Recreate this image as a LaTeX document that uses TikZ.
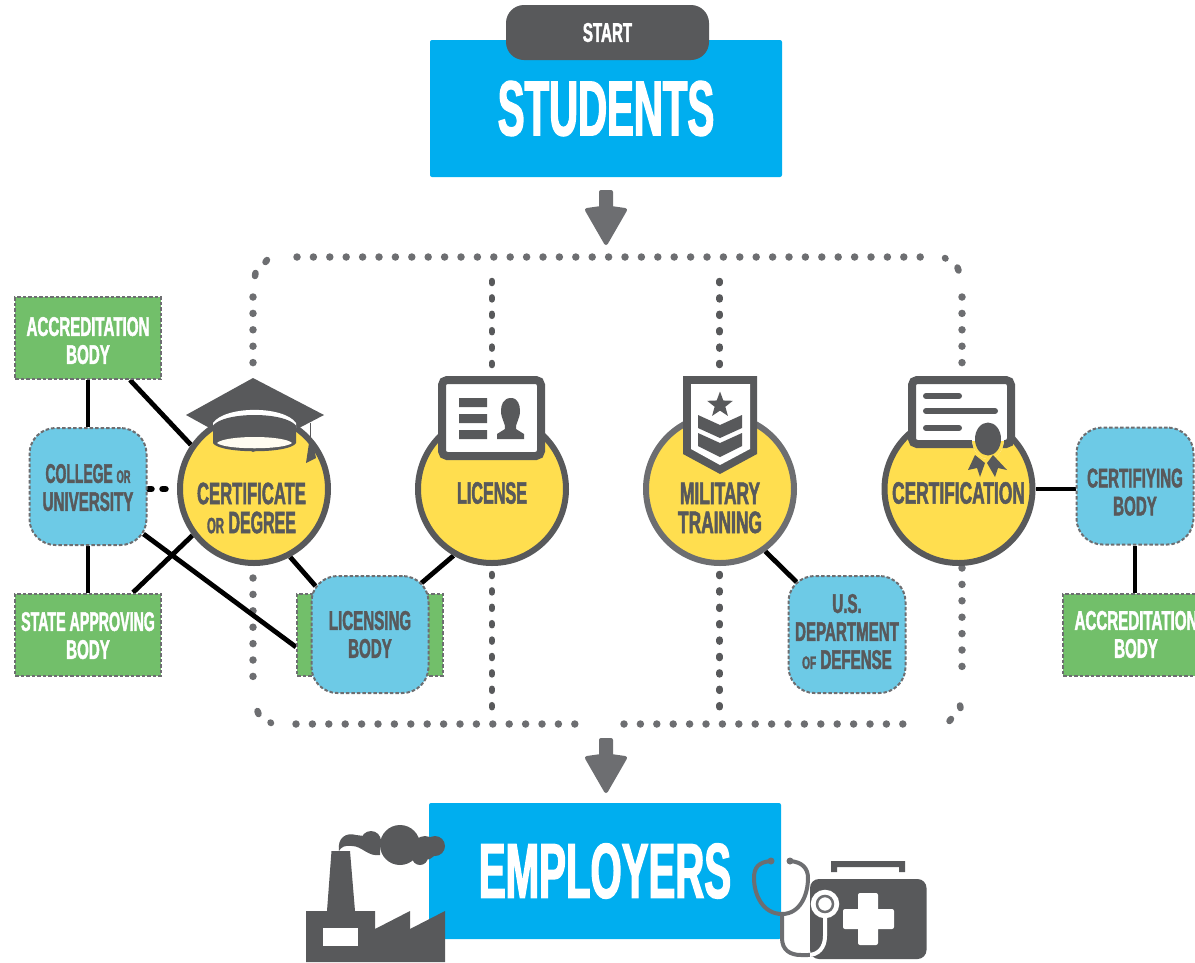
\documentclass[tikz,border=0pt]{standalone}
\usepackage{fontspec}
\setmainfont[FakeStretch=0.56,BoldFont={Liberation Sans Bold},BoldFeatures={FakeStretch=0.56,FakeBold=1.6}]{Liberation Sans}
\newfontfamily\bigface[FakeStretch=0.515,FakeBold=1.6]{Liberation Sans Bold}
\usetikzlibrary{shapes.geometric,calc,backgrounds}
\definecolor{ink}{HTML}{58595B}
\definecolor{midgray}{HTML}{6D6E71}
\definecolor{skyb}{HTML}{00AEEF}
\definecolor{softb}{HTML}{6DCAE6}
\definecolor{leaf}{HTML}{72BF6A}
\definecolor{sun}{HTML}{FFDE4F}
\newcommand{\fs}[1]{\fontsize{#1}{#1}\selectfont}
\newcommand{\sm}[1]{{\fs{18}#1}}
\newcommand{\dropby}[1]{\rule{0pt}{#1pt}}
\newcommand{\liftby}[1]{\rule[-#1pt]{0pt}{#1pt}}
\tikzset{
 x=1pt,y=-1pt,
 lbl/.style={font=\bfseries\fs{27},align=center,inner sep=0pt,execute at begin node={\baselineskip=28pt}},
 circlbl/.style={lbl,text=ink,font=\bfseries\fs{31},execute at begin node={\baselineskip=29pt}},
 greenbox/.style={lbl,text=white,fill=leaf,draw=midgray,line width=2pt,dash pattern=on 3.5pt off 2pt,minimum width=146pt,minimum height=82pt},
 bluebox/.style={lbl,text=ink,fill=softb,draw=midgray,line width=2pt,dash pattern=on 3.5pt off 2pt,rounded corners=26pt,minimum width=117pt,minimum height=117pt},
 pathway/.style={circle,fill=sun,draw=ink,line width=6pt,minimum size=148pt,inner sep=0pt},
 bigbox/.style={fill=skyb,text=white,font=\bigface\fs{78},inner sep=0pt,rounded corners=2pt},
 link/.style={line width=4.8pt,draw=black},
 dots/.style={draw=midgray,line width=7.5pt,line cap=round,dash pattern=on 0pt off 16.4pt},
 vdots/.style={draw=ink,line width=6.5pt,line cap=round,dash pattern=on 2pt off 14.4pt},
 cornerdot/.style={draw=midgray,line width=6.5pt,line cap=round},
 bigarrow/.style={fill=midgray,draw=midgray,line width=4pt,line join=round},
}
\begin{document}
\begin{tikzpicture}
\useasboundingbox (0,0) rectangle (1195,962);
% top and bottom boxes
\fill[bigarrow] (601,192) -- (611,192) -- (611,208) -- (625,210) -- (606,243) -- (587,210) -- (601,208) -- cycle;
\fill[bigarrow] (601,740) -- (611,740) -- (611,756) -- (625,758) -- (606,791) -- (587,758) -- (601,756) -- cycle;
\node[bigbox,minimum width=352pt,minimum height=137pt] (students) at (606,108.5) {STUDENTS};
\node[fill=ink,text=white,rounded corners=18pt,minimum width=203pt,minimum height=55pt,inner sep=0pt,font=\bfseries\fs{27}] (start) at (607.5,32.5) {START};
\node[bigbox,minimum width=352pt,minimum height=136pt] (employers) at (605,871) {EMPLOYERS};
% green boxes
\node[greenbox] (acc1) at (88,338) {\dropby{24}ACCREDITATION\\BODY};
\node[greenbox] (state) at (88,634.5) {\dropby{21}\scalebox{0.94}[1]{STATE APPROVING}\\BODY};
\node[greenbox] (lgreen) at (370,634.5) {};
\node[greenbox,anchor=west,text width=133pt] (acc2) at (1062,634.5) {ACCREDITATION\\BODY};
% circles
\node[pathway] (cert) at (254,489) {};
\node[pathway] (lic) at (492,489) {};
\node[pathway,draw=midgray] (mil) at (720,489) {};
\node[pathway] (certn) at (958.5,489) {};
% blue boxes
\node[bluebox] (college) at (88,486.5) {\dropby{21}\scalebox{0.92}[1]{COLLEGE \sm{OR}}\\UNIVERSITY};
\node[bluebox] (licbody) at (370,634.5) {LICENSING\\BODY};
\node[bluebox] (dod) at (847,634.5) {U.S.\\DEPARTMENT\\\sm{OF} DEFENSE\liftby{6}};
\node[bluebox] (cfb) at (1135,486) {\dropby{31}CERTIFIYING\\BODY};
% labels in circles
\node[circlbl] (certt) at (251.5,508) {\scalebox{0.96}[1]{CERTIFICATE}\\\scalebox{0.92}[1]{{\fs{22}OR} DEGREE}};
\node[circlbl] (lict) at (492,493) {\scalebox{0.93}[1]{LICENSE}};
\node[circlbl] (milt) at (720,508) {MILITARY\\TRAINING};
\node[circlbl] (certnt) at (958.5,493) {CERTIFICATION};
\begin{pgfonlayer}{background}
% dotted frame
\coordinate (fa) at (253,370); \coordinate (fb) at (253,297);
\coordinate (fc) at (297,257); \coordinate (fd) at (925,257);
\coordinate (fe) at (962,297); \coordinate (ff) at (962,369);
\coordinate (fg) at (962,568); \coordinate (fh) at (962,682);
\coordinate (fi) at (919,724); \coordinate (fj) at (624,724);
\coordinate (fk) at (591,724); \coordinate (fl) at (296,724);
\coordinate (fm) at (253,578); \coordinate (fn) at (253,678);
\draw[dots] (fb) -- (fa); \draw[dots] (fc) -- (fd); \draw[dots] (fe) -- (ff);
\draw[dots] (fg) -- (fh); \draw[dots] (fj) -- (fi); \draw[dots] (fl) -- (fk); \draw[dots] (fm) -- (fn);
\draw[cornerdot] (255,276) -- (255.5,273);
\draw[cornerdot] (265.5,262) -- (267,260);
\draw[cornerdot] (945,258) -- (945.5,258.5);
\draw[cornerdot] (957.5,267.5) -- (958.5,270.5);
\draw[cornerdot] (960.5,708) -- (960,705.5);
\draw[cornerdot] (951,719) -- (949.5,721);
\draw[cornerdot] (270.5,722.5) -- (271,723);
\draw[cornerdot] (257.5,711) -- (258.5,714);
\coordinate (d1a) at (491.8,281); \coordinate (d1b) at (491.8,372);
\coordinate (d1c) at (491.8,574); \coordinate (d1d) at (491.8,708);
\coordinate (d2a) at (719.6,281); \coordinate (d2b) at (719.6,372);
\coordinate (d2c) at (719.6,574); \coordinate (d2d) at (719.6,708);
\draw[vdots] (d1a)--(d1b); \draw[vdots] (d1c)--(d1d);
\draw[vdots] (d2a)--(d2b); \draw[vdots] (d2c)--(d2d);
% connectors
\draw[link] (acc1.south) -- (college.north);
\draw[link] (college.south) -- (state.north);
\draw[link] ([xshift=42pt]acc1.south) -- (cert.145);
\draw[link] ([xshift=45pt]state.north) -- (cert.217);
\draw[link] (college.south east) ++(-4,-12) -- (lgreen.west |- 0,647);
\draw[link] (cert.-62) -- ([shift={(5,11)}]licbody.north west);
\draw[link] ([shift={(-8,8)}]licbody.north east) -- (lic.-120);
\draw[link] (mil.-54) -- ([shift={(9,7)}]dod.north west);
\draw[link] (certn.east) -- (cfb.west |- certn.east);
\draw[link] (cfb.south) -- (acc2.north -| cfb.south);
\draw[draw=black,line width=6.5pt,line cap=round,dash pattern=on 3pt off 11pt] (college.east |- cert.west) ++(1,0) -- ([xshift=-8pt]cert.west);
\end{pgfonlayer}
% mortarboard
\fill[ink] (253,378) -- (324,415) -- (253,452) -- (186,415) -- cycle;
\fill[white] (213,423) .. controls (225,405.5) and (284,405.5) .. (296,423) -- (296,428) -- (213,428) -- cycle;
\fill[ink] (213,425.5) .. controls (225,411.5) and (284,411.5) .. (296,425.5) -- (296,443) .. controls (290,454) and (219,454) .. (213,443) -- cycle;
\fill[sun!8!white] (217,443) .. controls (225,435) and (284,435) .. (292,443) .. controls (284,450) and (225,450) .. (217,443) -- cycle;
\draw[ink,line width=1.5pt] (310.5,423) -- (310.5,445);
\fill[ink] (309,443) -- (313,443) -- (316,458) -- (306,463) -- cycle;
% licence card
\draw[ink,line width=8pt,fill=white,rounded corners=5pt] (442,380) rectangle (541,456);
\fill[ink] (459,398) rectangle (487,407) (459,414) rectangle (487,423) (459,430) rectangle (487,439);
\fill[ink] (511,398) .. controls (503,398) and (501,405) .. (501,411) .. controls (501,419) and (506,424) .. (505,429) -- (497,434) -- (497,439) -- (524,439) -- (524,434) -- (516,429) .. controls (515,424) and (520,419) .. (520,411) .. controls (520,405) and (518,398) .. (511,398) -- cycle;
% rank badge
\fill[ink] (683,376) -- (757,376) -- (757,454) -- (720,474) -- (683,454) -- cycle;
\fill[white] (691,384) -- (750,384) -- (750,449) -- (720,465) -- (691,449) -- cycle;
\node[star,star points=5,star point ratio=2.4,fill=ink,minimum size=27pt,inner sep=0pt] (rankstar) at (720,405) {};
\fill[ink] (698,415) -- (720,425) -- (742,415) -- (742,428) -- (720,438) -- (698,428) -- cycle;
\fill[ink] (698,433) -- (720,443) -- (742,433) -- (742,446) -- (720,457) -- (698,446) -- cycle;
% certificate
\draw[ink,line width=8pt,fill=white,rounded corners=5pt] (912,380) rectangle (1011,444);
\draw[ink,line width=6pt,line cap=round] (926,396) -- (959,396) (926,411) -- (995,411) (926,428) -- (959,428);
\fill[white] (988,439) ellipse [x radius=16,y radius=20];
\begin{scope}
\clip (960,441.5) rectangle (1020,470);
\fill[sun] (988,439) ellipse [x radius=16,y radius=20];
\end{scope}
\fill[ink] (988,439) ellipse [x radius=13,y radius=16.5];
\fill[ink] (975,455) -- (985,463) -- (980,477) -- (977,468) -- (968,470) -- cycle;
\fill[ink] (993,455) -- (987,463) -- (995,477) -- (998,468) -- (1007,470) -- cycle;
% factory
\fill[ink] (331.5,851) -- (350,851) -- (355,911) -- (375,911) -- (375,929) -- (410,911) -- (410,929) -- (445,911) -- (445,962) -- (306,962) -- (306,911) -- (327,911) -- cycle;
\fill[white] (323,928) rectangle (358,946);
\fill[ink] (339,851) .. controls (337,838) and (346,832) .. (356,835) -- (380,838) -- (380,855) .. controls (368,857) and (362,846) .. (352,846) .. controls (345,845) and (341,847) .. (339,851) -- cycle;
\fill[ink] (371,841) circle[radius=10] (400,845) circle[radius=20] (425,848) circle[radius=12] (435,846) circle[radius=10] (420,857) circle[radius=8];
% medical kit
\fill[ink,rounded corners=9pt] (810,879) rectangle (926.5,959);
\fill[ink] (831,872) -- (831,861) -- (905,861) -- (905,872) -- (899,872) -- (899,867) -- (837,867) -- (837,872) -- cycle;
\fill[white,rounded corners=2pt] (843,909) rectangle (894,929) (858,893) rectangle (878,945);
% stethoscope
\def\tubes{(771,861) .. controls (758,862) and (754,868) .. (754,878) .. controls (754,895) and (763,914) .. (782,914) .. controls (800,914) and (808,895) .. (808,878) .. controls (808,868) and (802,862) .. (790,861) (782,914) -- (782,938) .. controls (782,950) and (790,955) .. (801,955) -- (808,955) .. controls (818,955) and (825,948) .. (825,936) -- (825,915)}
\draw[midgray,line width=4pt] \tubes;
\begin{scope}
\clip (810,879) rectangle (927,960);
\draw[white,line width=4pt] \tubes;
\end{scope}
\fill[midgray] (771,861) circle[radius=3.5] (790,861) circle[radius=3.5];
\draw[white,line width=2.5pt,fill=white] (825,904) circle[radius=13];
\draw[midgray,line width=2.5pt,fill=white] (825,904) circle[radius=8];
\end{tikzpicture}
\end{document}
